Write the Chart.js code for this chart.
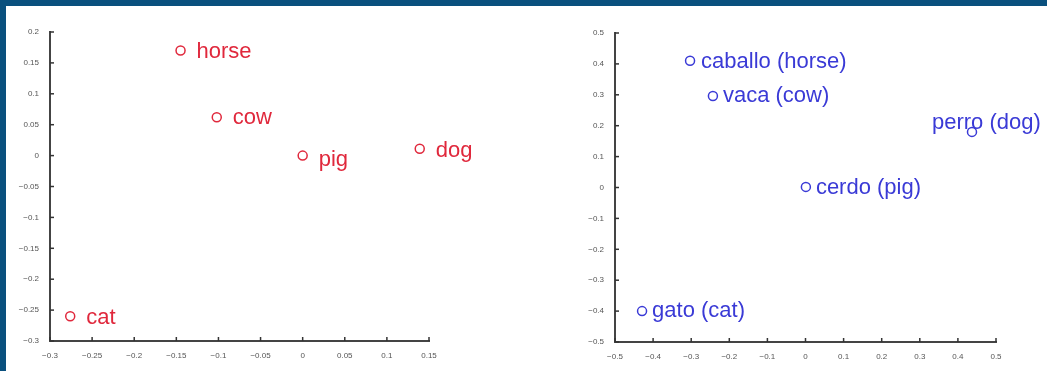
<!DOCTYPE html>
<html>
<head>
<meta charset="utf-8">
<script src="https://cdn.jsdelivr.net/npm/chart.js@4"></script>
<style>
  body { margin: 0; background: #fff; }
  #frame { position: absolute; left: 0; top: 0; width: 1041px; height: 365px;
           border-top: 6px solid #0a507e; border-left: 6px solid #0a507e; background: #fff; }
  canvas { position: absolute; top: 6px; }
  #left { left: 6px; }
  #right { left: 526px; }
</style>
</head>
<body>
<div id="frame"></div>
<canvas id="left" width="520" height="365"></canvas>
<canvas id="right" width="521" height="365"></canvas>
<script>
// english words
var enWords = ["horse", "cow", "pig", "dog", "cat"];
var enX = [-0.145, -0.102, 0.0, 0.139, -0.276];
var enY = [0.17, 0.062, 0.0, 0.011, -0.26];
var enXTicks = [-0.3, -0.25, -0.2, -0.15, -0.1, -0.05, 0, 0.05, 0.1, 0.15];
var enYTicks = [-0.3, -0.25, -0.2, -0.15, -0.1, -0.05, 0, 0.05, 0.1, 0.15, 0.2];

// spanish words
var esWords = ["caballo (horse)", "vaca (cow)", "cerdo (pig)", "perro (dog)", "gato (cat)"];
var esX = [-0.303, -0.243, 0.001, 0.437, -0.429];
var esY = [0.41, 0.296, 0.002, 0.18, -0.4];
var esXTicks = [-0.5, -0.4, -0.3, -0.2, -0.1, 0, 0.1, 0.2, 0.3, 0.4, 0.5];
var esYTicks = [-0.5, -0.4, -0.3, -0.2, -0.1, 0, 0.1, 0.2, 0.3, 0.4, 0.5];

// where the label sits relative to its point (px)
var enOffsets = [[16, 1], [16, 1], [16, 4], [16, 2], [16, 2]];
var esOffsets = [[11, 1], [10, 0], [10, 1], [-40, -9], [10, 0]];

function fmt(v) {
    var s = String(Math.round(v * 100) / 100);
    return s.replace("-", "\u2212");
}

// labels next to the points
var wordLabels = {
    id: "wordLabels",
    afterDatasetsDraw: function (chart, args, opts) {
        var ctx = chart.ctx;
        var meta = chart.getDatasetMeta(0);
        ctx.save();
        ctx.fillStyle = opts.color;
        ctx.font = "22px 'Liberation Sans', Arial, sans-serif";
        ctx.textBaseline = "middle";
        meta.data.forEach(function (pt, i) {
            var off = opts.offsets[i];
            ctx.fillText(opts.words[i], pt.x + off[0], pt.y + off[1]);
        });
        ctx.restore();
    }
};

// matlab style inward ticks
var innerTicks = {
    id: "innerTicks",
    afterDraw: function (chart) {
        var ctx = chart.ctx;
        var a = chart.chartArea;
        ctx.save();
        ctx.strokeStyle = "#333";
        ctx.lineWidth = 1.5;
        chart.scales.x.ticks.forEach(function (t) {
            var px = chart.scales.x.getPixelForValue(t.value);
            ctx.beginPath();
            ctx.moveTo(px, a.bottom);
            ctx.lineTo(px, a.bottom - 4);
            ctx.stroke();
        });
        chart.scales.y.ticks.forEach(function (t) {
            var py = chart.scales.y.getPixelForValue(t.value);
            ctx.beginPath();
            ctx.moveTo(a.left, py);
            ctx.lineTo(a.left + 4, py);
            ctx.stroke();
        });
        ctx.restore();
    }
};

function makeChart(id, xs, ys, words, offsets, xTicks, yTicks, color, pad, yW, xH) {
    var pts = xs.map(function (x, i) { return { x: x, y: ys[i] }; });
    var tickFont = { family: "'Liberation Sans', Arial, sans-serif", size: 8 };
    return new Chart(document.getElementById(id), {
        type: "scatter",
        data: {
            datasets: [{
                data: pts,
                pointStyle: "circle",
                pointRadius: 4.5,
                pointBorderWidth: 1.5,
                borderColor: color,
                backgroundColor: "rgba(0,0,0,0)",
                clip: false
            }]
        },
        options: {
            responsive: false,
            animation: false,
            devicePixelRatio: 1,
            layout: { padding: pad },
            plugins: {
                legend: { display: false },
                tooltip: { enabled: false },
                wordLabels: { words: words, offsets: offsets, color: color }
            },
            scales: {
                x: {
                    type: "linear",
                    min: xTicks[0],
                    max: xTicks[xTicks.length - 1],
                    afterBuildTicks: function (s) { s.ticks = xTicks.map(function (v) { return { value: v }; }); },
                    afterFit: function (s) { s.height = xH; },
                    grid: { display: false },
                    border: { display: true, color: "#444", width: 2 },
                    ticks: { color: "#555", font: tickFont, padding: 2, maxRotation: 0, autoSkip: false,
                             callback: function (v) { return fmt(v); } }
                },
                y: {
                    type: "linear",
                    min: yTicks[0],
                    max: yTicks[yTicks.length - 1],
                    afterBuildTicks: function (s) { s.ticks = yTicks.map(function (v) { return { value: v }; }); },
                    afterFit: function (s) { s.width = yW; },
                    grid: { display: false },
                    border: { display: true, color: "#444", width: 2 },
                    ticks: { color: "#555", font: tickFont, padding: 3, autoSkip: false,
                             callback: function (v) { return fmt(v); } }
                }
            }
        },
        plugins: [wordLabels, innerTicks]
    });
}

makeChart("left", enX, enY, enWords, enOffsets, enXTicks, enYTicks, "#e0283c",
    { left: 0, right: 97, top: 26, bottom: 0 }, 44, 30);
makeChart("right", esX, esY, esWords, esOffsets, esXTicks, esYTicks, "#3a3ad6",
    { left: 0, right: 51, top: 27, bottom: 0 }, 89, 29);
</script>
</body>
</html>
